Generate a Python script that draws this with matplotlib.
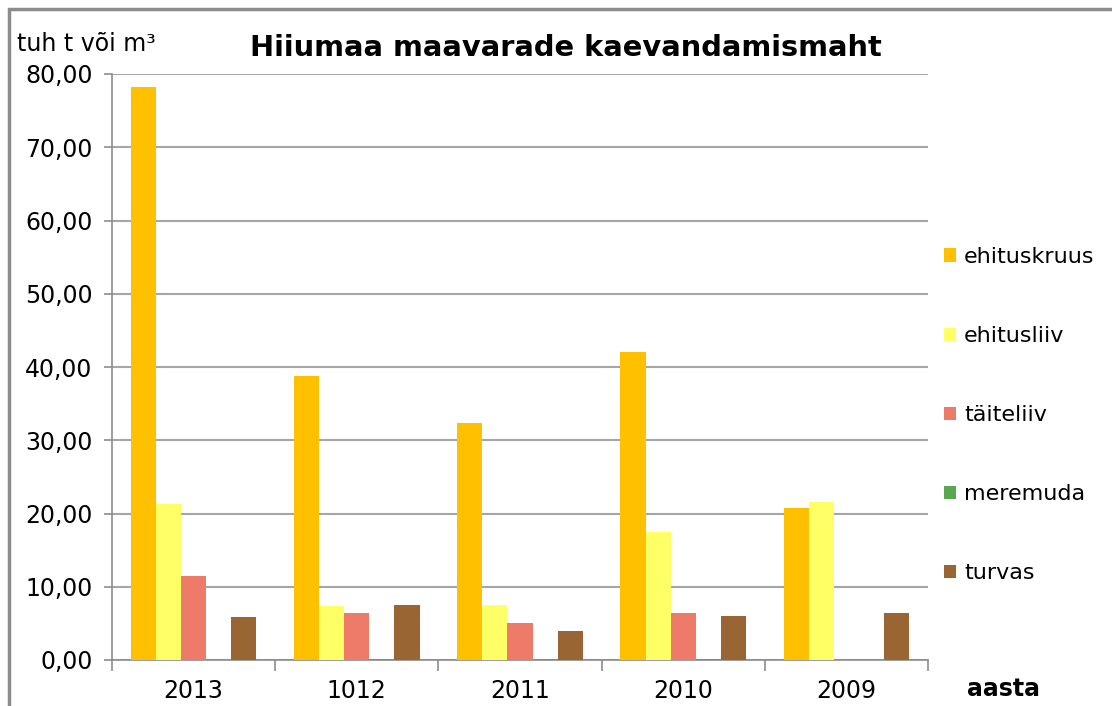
import matplotlib.pyplot as plt
import numpy as np
from matplotlib.patches import Rectangle

aastad = ["2013", "1012", "2011", "2010", "2009"]
ehituskruus = [78.2, 38.8, 32.3, 42.0, 20.8]
ehitusliiv = [21.3, 7.4, 7.5, 17.5, 21.6]
taiteliiv = [11.4, 6.45, 5.0, 6.45, 0.0]
meremuda = [0.0, 0.2, 0.2, 0.2, 0.0]
turvas = [5.9, 7.5, 4.0, 5.95, 6.45]

seeriad = ["ehituskruus", "ehitusliiv", "täiteliiv", "meremuda", "turvas"]
varvid = ["#FFC000", "#FFFF66", "#EE7B69", "#5BA650", "#996633"]

plt.rcParams["font.family"] = ["DejaVu Sans"]

fig = plt.figure(figsize=(11.12, 7.06), dpi=100)
ax = fig.add_axes([112 / 1112, 46 / 706, 816 / 1112, 586 / 706])

# raam ümber joonise
fig.patches.append(Rectangle((9 / 1112, -0.1), 1.2, 0.1 + 697 / 706,
                             transform=fig.transFigure, fill=False,
                             edgecolor="#8C8C8C", linewidth=2.5))

x = np.arange(len(aastad))
w = 1 / 6.5
andmed = [ehituskruus, ehitusliiv, taiteliiv, meremuda, turvas]
for i, (vals, nimi, c) in enumerate(zip(andmed, seeriad, varvid)):
    ax.bar(x + (i - 2) * w, vals, width=w, color=c, label=nimi, zorder=3)

ax.set_xlim(-0.5, len(aastad) - 0.5)
ax.set_ylim(0, 80)
ax.set_yticks(np.arange(0, 81, 10))
ax.set_yticklabels([f"{v:.2f}".replace(".", ",") for v in np.arange(0, 81, 10)],
                   fontsize=17)
ax.set_xticks(x)
ax.set_xticklabels(aastad, fontsize=17)
ax.set_xticks(np.arange(-0.5, len(aastad)), minor=True)
ax.tick_params(axis="x", which="major", length=0, pad=14)
ax.tick_params(axis="x", which="minor", length=8, color="#8C8C8C", width=1.2)
ax.tick_params(axis="y", length=6, color="#8C8C8C", width=1.2, pad=8)
ax.grid(axis="y", color="#A6A6A6", linewidth=1.5, zorder=0)
for s in ["top", "right"]:
    ax.spines[s].set_visible(False)
for s in ["left", "bottom"]:
    ax.spines[s].set_color("#8C8C8C")
    ax.spines[s].set_linewidth(1.2)

fig.text(250 / 1112, 1 - 48 / 706, "Hiiumaa maavarade kaevandamismaht",
         fontsize=20.8, fontweight="bold", va="center", ha="left")
fig.text(17 / 1112, 1 - 44 / 706, "tuh t või m³", fontsize=17, va="center")
fig.text(967 / 1112, 1 - 689 / 706, "aasta", fontsize=17, fontweight="bold",
         va="center")

fig.legend(loc="upper left", bbox_to_anchor=(944 / 1112, 1 - 247 / 706),
           frameon=False, fontsize=16, handlelength=0.55, handleheight=0.55,
           handletextpad=0.35, labelspacing=2.66, borderpad=0,
           borderaxespad=0)

fig.savefig("out.png", dpi=100)
